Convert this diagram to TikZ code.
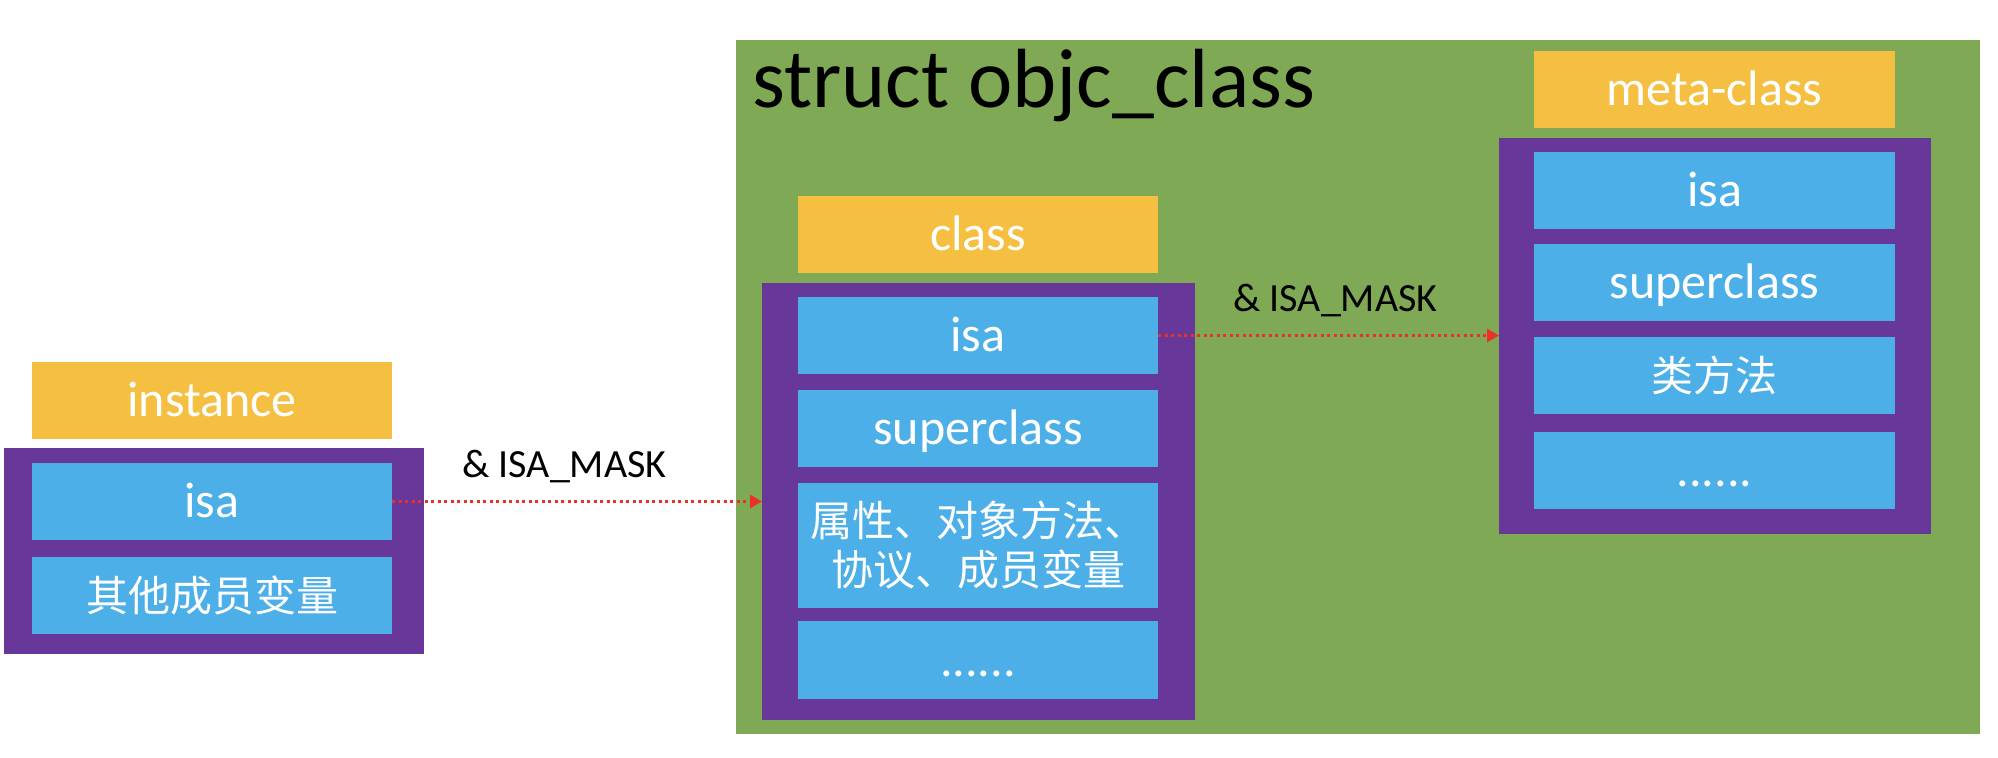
\documentclass[tikz,border=0pt]{standalone}
\usepackage{fontspec}
\setmainfont{Carlito}
\newfontfamily\cjk{Noto Sans CJK SC}
\usetikzlibrary{arrows.meta}
\definecolor{cyellow}{RGB}{245,192,66}
\definecolor{cpurple}{RGB}{103,56,154}
\definecolor{cblue}{RGB}{77,175,232}
\definecolor{cgreen}{RGB}{127,169,85}
\definecolor{cred}{RGB}{232,50,40}
\tikzset{
  box/.style={rectangle, inner sep=0pt, outer sep=0pt, draw=none},
  ybox/.style={box, fill=cyellow, minimum width=180pt, minimum height=38.5pt, text=white,
    font=\fontsize{25pt}{30pt}\selectfont, text height=20.5pt, text depth=4.5pt},
  bbox/.style={box, fill=cblue, minimum width=180pt, minimum height=38.5pt, text=white,
    font=\fontsize{25pt}{30pt}\selectfont, text height=20.5pt, text depth=4.5pt},
  cbox/.style={box, fill=cblue, minimum width=180pt, minimum height=38.5pt, text=white,
    font=\fontsize{21pt}{24.5pt}\selectfont\cjk},
  pbox/.style={box, fill=cpurple},
  lbl/.style={inner sep=0pt, anchor=base west, font=\fontsize{20pt}{24pt}\selectfont},
  isaarrow/.style={draw=cred, line width=1.5pt, dash pattern=on 1.5pt off 1.75pt,
    -{Triangle[length=6pt,width=6.5pt]}},
}
\begin{document}
\begin{tikzpicture}[x=0.5pt,y=-0.5pt]
\useasboundingbox (0,0) rectangle (1998,758);
% green container
\node[box, fill=cgreen, minimum width=622pt, minimum height=347pt] (green) at (1358,387) {};
\node[inner sep=0pt, anchor=base west, font=\fontsize{42pt}{50pt}\selectfont] (title) at (752,108) {struct objc\_class};
% instance
\node[ybox] (insthead) at (212,400.5) {instance};
\node[pbox, minimum width=210pt, minimum height=103pt] (instbody) at (214,551) {};
\node[bbox] (instisa) at (212,501.5) {isa};
\node[cbox] (instother) at (212,595.5) {其他成员变量};
% class
\node[ybox] (classhead) at (978,234.5) {class};
\node[pbox, minimum width=216.5pt, minimum height=218.5pt] (classbody) at (978.5,501.5) {};
\node[bbox] (classisa) at (978,335.5) {isa};
\node[bbox] (classsuper) at (978,428.5) {superclass};
\node[cbox, minimum height=62.5pt, align=center] (classattr) at (978,545.5) {属性、对象方法、\\协议、成员变量};
\node[bbox, minimum height=39pt] (classdots) at (978,660) {......};
% meta-class
\node[ybox, minimum width=180.5pt] (metahead) at (1714.5,89.5) {meta-class};
\node[pbox, minimum width=216pt, minimum height=198pt] (metabody) at (1715,336) {};
\node[bbox, minimum width=180.5pt] (metaisa) at (1714.5,190.5) {isa};
\node[bbox, minimum width=180.5pt] (metasuper) at (1714.5,282.5) {superclass};
\node[cbox, minimum width=180.5pt] (metamethods) at (1714.5,375.5) {类方法};
\node[bbox, minimum width=180.5pt] (metadots) at (1714.5,470.5) {......};
% arrows
\draw[isaarrow] (instisa.east) -- (instisa.east -| classbody.west);
\draw[isaarrow] (classisa.east) -- (classisa.east -| metabody.west);
\node[lbl] (mask1) at (462,478) {\& ISA\_MASK};
\node[lbl] (mask2) at (1233,311.5) {\& ISA\_MASK};
\end{tikzpicture}
\end{document}
